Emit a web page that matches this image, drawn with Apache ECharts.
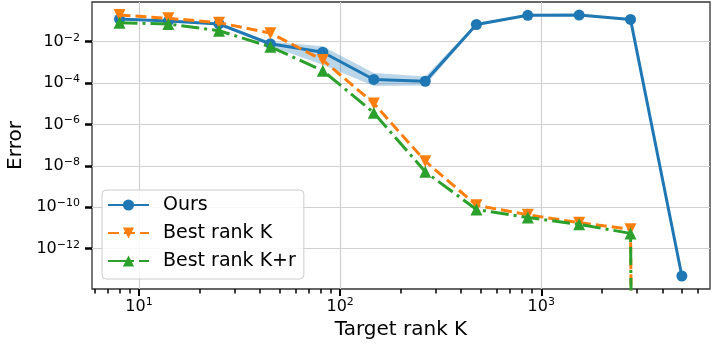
<!DOCTYPE html>
<html>
<head>
<meta charset="utf-8">
<script src="https://cdn.jsdelivr.net/npm/echarts@6/dist/echarts.min.js"></script>
<style>
html, body { margin: 0; padding: 0; background: #fff; }
#chart { width: 718px; height: 344px; }
</style>
</head>
<body>
<div id="chart"></div>
<script>
// target ranks (x) shared by all three curves
const ranks = [8, 14, 25, 45, 82, 147, 265, 476, 857, 1543, 2778, 5000];

const ours = [0.125, 0.10, 0.072, 0.0079, 0.0031, 1.5e-4, 1.23e-4, 0.068, 0.188, 0.195, 0.12, 4.8e-14];
const oursLow = [0.12, 0.095, 0.067, 0.006, 7.8e-4, 7.2e-5, 7.6e-5, 0.057, 0.175, 0.18, 0.11, 4.6e-14];
const oursHigh = [0.13, 0.105, 0.077, 0.0099, 0.006, 3.1e-4, 2.1e-4, 0.08, 0.2, 0.21, 0.13, 5e-14];

// last value is 0 in the source; a log axis can't take 0, so it sits far below the floor
const bestK = [0.195, 0.135, 0.083, 0.026, 0.0013, 1.05e-5, 1.7e-8, 1.25e-10, 4.4e-11, 1.8e-11, 8.7e-12, 1e-300];
const bestKr = [0.083, 0.072, 0.034, 0.0057, 4e-4, 3.7e-6, 5.2e-9, 7.9e-11, 3.2e-11, 1.5e-11, 5.5e-12, 1e-300];

const xMajor = [10, 100, 1000];
const xMinor = [6, 7, 8, 9, 20, 30, 40, 50, 60, 70, 80, 90,
  200, 300, 400, 500, 600, 700, 800, 900, 2000, 3000, 4000, 5000, 6000];
const yMajor = [1e-2, 1e-4, 1e-6, 1e-8, 1e-10, 1e-12];

const X_MIN = 5.84, X_MAX = 6900;
const Y_MIN = 1.13e-14, Y_MAX = 0.83;

const FONT = 'DejaVu Sans';
const BLUE = '#1f77b4', ORANGE = '#ff7f0e', GREEN = '#2ca02c';

function powLabel(v) {
  const e = Math.round(Math.log10(v));
  const exp = e < 0 ? '\u2212' + (-e) : String(e);
  return '{b|10}{s|' + exp + '}';
}

const labelRich = {
  b: { fontFamily: FONT, fontSize: 16, color: '#000' },
  s: { fontFamily: FONT, fontSize: 11, color: '#000', padding: [0, 0, 8, 0] }
};

const chart = echarts.init(document.getElementById('chart'), null, { renderer: 'canvas' });

chart.setOption({
  animation: false,
  backgroundColor: '#fff',
  textStyle: { fontFamily: FONT },
  grid: {
    left: 92, right: 8, top: 2, bottom: 55,
    containLabel: false,
    outerBoundsMode: 'none',
    show: true,
    borderColor: '#333',
    borderWidth: 1.3,
    backgroundColor: 'transparent'
  },
  legend: {
    data: ['Ours', 'Best rank K', 'Best rank K+r'],
    orient: 'vertical',
    left: 102,
    top: 190,
    padding: [5, 8, 8, 5],
    itemGap: 8,
    itemWidth: 41,
    itemHeight: 14,
    backgroundColor: 'rgba(255,255,255,0.85)',
    borderColor: '#cccccc',
    borderWidth: 1,
    borderRadius: 4,
    textStyle: { fontFamily: FONT, fontSize: 19, color: '#000', lineHeight: 20, padding: [0, 0, 0, 9] }
  },
  xAxis: [
    {
      type: 'log',
      min: X_MIN,
      max: X_MAX,
      name: 'Target rank K',
      nameLocation: 'middle',
      nameGap: 30,
      nameTextStyle: { fontFamily: FONT, fontSize: 20, color: '#000' },
      axisLine: { show: false },
      axisTick: { show: true, customValues: xMajor, length: 7, lineStyle: { color: '#000', width: 2 } },
      axisLabel: { customValues: xMajor, margin: 8, formatter: powLabel, rich: labelRich },
      splitLine: { show: true, lineStyle: { color: '#d0d0d0', width: 1.2 } },
      minorTick: { show: false },
      minorSplitLine: { show: false }
    },
    {
      type: 'log',
      min: X_MIN,
      max: X_MAX,
      position: 'bottom',
      offset: 0,
      axisLine: { show: false },
      axisTick: { show: true, customValues: xMinor, length: 4.5, lineStyle: { color: '#000', width: 1.5 } },
      axisLabel: { show: false },
      splitLine: { show: false }
    }
  ],
  yAxis: {
    type: 'log',
    min: Y_MIN,
    max: Y_MAX,
    name: 'Error',
    nameLocation: 'middle',
    nameGap: 64,
    nameTextStyle: { fontFamily: FONT, fontSize: 20, color: '#000' },
    axisLine: { show: false },
    axisTick: { show: true, customValues: yMajor, length: 7, lineStyle: { color: '#000', width: 2.5 } },
    axisLabel: { customValues: yMajor, margin: 12, formatter: powLabel, rich: labelRich },
    splitLine: { show: true, lineStyle: { color: '#d0d0d0', width: 1.2 } },
    minorTick: { show: false }
  },
  series: [
    {
      type: 'custom',
      name: 'band',
      silent: true,
      z: 1,
      data: [[ranks[0], ours[0]]],
      renderItem: function (params, api) {
        const pts = [];
        for (let i = 0; i < ranks.length; i++) pts.push(api.coord([ranks[i], oursHigh[i]]));
        for (let i = ranks.length - 1; i >= 0; i--) pts.push(api.coord([ranks[i], oursLow[i]]));
        return {
          type: 'polygon',
          shape: { points: pts },
          style: { fill: 'rgba(31,119,180,0.3)', stroke: null }
        };
      }
    },
    {
      type: 'line',
      name: 'Ours',
      z: 3,
      data: ranks.map((k, i) => [k, ours[i]]),
      symbol: 'circle',
      symbolSize: 11,
      lineStyle: { color: BLUE, width: 3 },
      itemStyle: { color: BLUE },
      clip: true
    },
    {
      type: 'line',
      name: 'Best rank K',
      z: 4,
      data: ranks.map((k, i) => [k, bestK[i]]),
      symbol: 'triangle',
      symbolRotate: 180,
      symbolSize: 12,
      lineStyle: { color: ORANGE, width: 3, type: [11, 5] },
      itemStyle: { color: ORANGE },
      clip: true
    },
    {
      type: 'line',
      name: 'Best rank K+r',
      z: 5,
      data: ranks.map((k, i) => [k, bestKr[i]]),
      symbol: 'triangle',
      symbolSize: 12,
      lineStyle: { color: GREEN, width: 3, type: [18, 5, 3, 5] },
      itemStyle: { color: GREEN },
      clip: true
    }
  ]
});
</script>
</body>
</html>
